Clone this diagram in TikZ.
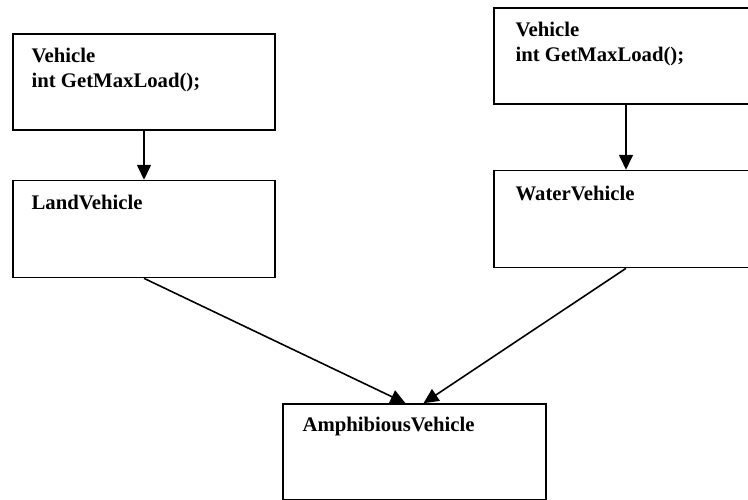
\documentclass[tikz,border=0pt]{standalone}
\usepackage{fontspec}
\setmainfont{Liberation Serif}
\usetikzlibrary{arrows.meta, positioning}

\begin{document}
\begin{tikzpicture}[x=0.02cm, y=-0.02cm,
  every node/.style={font=\fontsize{11.8}{14}\selectfont\bfseries},
  classbox/.style={draw, line width=0.9pt, rectangle, inner sep=0pt,
                   minimum width=5.24cm, minimum height=1.92cm},
  classname/.style={align=left, inner sep=0pt},
  inherit/.style={line width=0.9pt, -{Triangle[length=0.3cm, width=0.28cm]}}
]
  \useasboundingbox (0,0) rectangle (748,500);
  \clip (0,0) rectangle (748,500);

  % Left branch
  \node[classbox] (veh1) at (144,82) {};
  \node[classbox, minimum height=1.94cm, below=0.98cm of veh1] (land) {};
  \node[classname, below right=0.3cm and 0.38cm of veh1.north west] (veh1txt)
    {Vehicle\\int GetMaxLoad();};
  \node[classname, below right=0.3cm and 0.38cm of land.north west] (landtxt)
    {LandVehicle};

  % Right branch (runs off the page edge)
  \node[classbox, minimum width=5.28cm] (veh2) at (626,56) {};
  \node[classbox, minimum width=5.28cm, minimum height=1.94cm, below=1.3cm of veh2] (water) {};
  \node[classname, below right=0.3cm and 0.44cm of veh2.north west] (veh2txt)
    {Vehicle\\int GetMaxLoad();};
  \node[classname, below right=0.32cm and 0.44cm of water.north west] (watertxt)
    {WaterVehicle};

  % Derived class
  \node[classbox, minimum width=5.26cm, minimum height=1.92cm] (amph) at (414.5,452) {};
  \node[classname, below right=0.28cm and 0.4cm of amph.north west] (amphtxt)
    {AmphibiousVehicle};

  % Inheritance arrows
  \draw[inherit] (veh1.south) -- (land.north);
  \draw[inherit] (veh2.south) -- (water.north);
  \draw[inherit] (land.south) -- ([xshift=-0.18cm]amph.north);
  \draw[inherit] (water.south) -- ([xshift=0.18cm]amph.north);
\end{tikzpicture}
\end{document}
